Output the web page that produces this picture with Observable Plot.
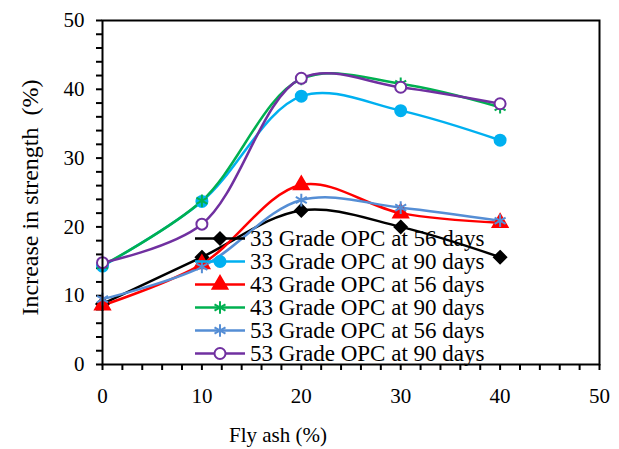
<!DOCTYPE html>
<html><head><meta charset="utf-8">
<script src="https://cdn.jsdelivr.net/npm/d3@7"></script>
<script src="https://cdn.jsdelivr.net/npm/@observablehq/plot@0.6"></script>
<style>
body{margin:0;background:#fff;}
#wrap{position:relative;width:619px;height:449px;font-family:"Liberation Serif",Tinos,"Times New Roman",Times,"DejaVu Serif",serif;}
#wrap svg text{font-family:"Liberation Serif",Tinos,"Times New Roman",Times,"DejaVu Serif",serif;}
#legend{position:absolute;left:193px;top:227px;}
.row{display:flex;align-items:center;height:23px;font-size:23px;line-height:23px;color:#000;white-space:nowrap}
.row svg{margin-right:3px}
</style></head><body><div id="wrap"></div>
<script>
const flyAsh = [0, 10, 20, 30, 40];
const seriesNames = ["33 Grade OPC at 56 days","33 Grade OPC at 90 days","43 Grade OPC at 56 days","43 Grade OPC at 90 days","53 Grade OPC at 56 days","53 Grade OPC at 90 days"];
const g33d56 = [8.8, 15.6, 22.4, 20.0, 15.6];
const g33d90 = [14.3, 23.7, 39.0, 36.9, 32.6];
const g43d56 = [8.6, 14.6, 26.1, 22.0, 20.6];
const g43d90 = [14.4, 23.8, 41.5, 40.8, 37.4];
const g53d56 = [9.5, 14.2, 23.9, 22.8, 20.9];
const g53d90 = [14.8, 20.4, 41.6, 40.3, 37.9];
const xTicks = [0, 10, 20, 30, 40, 50];
const yTicks = [0, 10, 20, 30, 40, 50];
const xTitle = "Fly ash (%)";
const yTitle = "Increase in strength  (%)";

const values = [g33d56, g33d90, g43d56, g43d90, g53d56, g53d90];
const colors = ["#000000", "#00B0F0", "#FF0000", "#00B050", "#558ED5", "#7030A0"];
const symbols = ["diamond2", "circle", "triangle", "asterisk", "asterisk", "circle"];
const fills = ["#000000", "#00B0F0", "#FF0000", "none", "none", "#ffffff"];
const radii = [5.5, 5.5, 5.5, 6, 6, 5.5];
const fontStack = '"Liberation Serif",Tinos,"Times New Roman",Times,"DejaVu Serif",serif';

const series = seriesNames.map((name, i) => flyAsh.map((x, j) => ({name, x, y: values[i][j]})));

const marks = [];
series.forEach((data, i) => {
  marks.push(Plot.line(data, {x: "x", y: "y", stroke: colors[i], strokeWidth: 2.5, curve: "catmull-rom"}));
});
series.forEach((data, i) => {
  marks.push(Plot.dot(data, {x: "x", y: "y", symbol: () => symbols[i], r: radii[i], fill: fills[i], stroke: colors[i], strokeWidth: 2}));
});

const minor = d3.range(0, 51, 2);
const plot = Plot.plot({
  width: 619, height: 449,
  marginLeft: 102, marginRight: 20, marginTop: 20, marginBottom: 85,
  style: {fontFamily: fontStack, fontSize: "21px", color: "#000", background: "#fff"},
  x: {domain: [0, 50], label: null},
  y: {domain: [0, 50], label: null},
  symbol: {type: "identity"},
  marks: [
    Plot.axisX({ticks: minor, tickSize: 6, tickPadding: 18, tickFormat: d => xTicks.includes(d) ? d : "", strokeWidth: 2, fontSize: 21}),
    Plot.axisY({ticks: minor, tickSize: 6, tickPadding: 12, tickFormat: d => yTicks.includes(d) ? d : "", strokeWidth: 2, fontSize: 21}),
    ...marks,
    Plot.frame({stroke: "#000", strokeWidth: 2}),
    Plot.text([xTitle], {frameAnchor: "bottom", dy: 77, dx: -73, fontSize: 21}),
    Plot.text([yTitle], {frameAnchor: "left", textAnchor: "middle", rotate: -90, dx: -72, dy: 5, fontSize: 24, style: "white-space:pre"})
  ]
});
const wrap = document.getElementById("wrap");
wrap.appendChild(plot);

const legend = document.createElement("div");
legend.id = "legend";
const symMap = {diamond2: d3.symbolDiamond2, circle: d3.symbolCircle, triangle: d3.symbolTriangle, asterisk: d3.symbolAsterisk};
seriesNames.forEach((name, i) => {
  const row = document.createElement("div");
  row.className = "row";
  const sw = d3.create("svg").attr("width", 54).attr("height", 23);
  sw.append("line").attr("x1", 2).attr("x2", 52).attr("y1", 11.5).attr("y2", 11.5).attr("stroke", colors[i]).attr("stroke-width", 2.5);
  sw.append("path").attr("transform", "translate(27,11.5)")
    .attr("d", d3.symbol(symMap[symbols[i]], Math.PI * radii[i] * radii[i])())
    .attr("fill", fills[i]).attr("stroke", colors[i]).attr("stroke-width", 2);
  row.appendChild(sw.node());
  const t = document.createElement("span");
  t.textContent = name;
  row.appendChild(t);
  legend.appendChild(row);
});
wrap.appendChild(legend);
</script></body></html>
